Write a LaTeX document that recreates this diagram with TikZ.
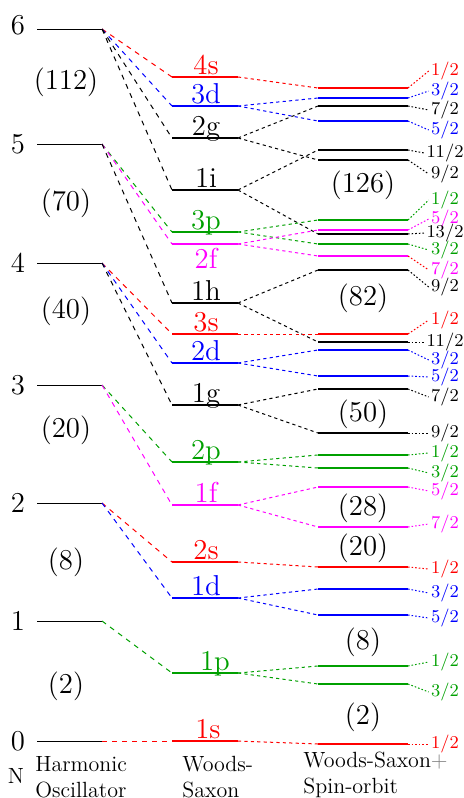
\documentclass[tikz,border=0pt]{standalone}
\definecolor{orbs}{HTML}{FF0000}
\definecolor{orbp}{HTML}{00A000}
\definecolor{orbd}{HTML}{0000FF}
\definecolor{orbf}{HTML}{FF00FF}

\begin{document}
\begin{tikzpicture}[
    x=0.5pt, y=-0.5pt,
    ho/.style={fill=black, minimum width=32.5pt, minimum height=0.5pt, inner sep=0pt, outer sep=0pt},
    ws/.style={minimum width=33pt, minimum height=1.2pt, inner sep=0pt, outer sep=0pt},
    so/.style={minimum width=45pt, minimum height=1.2pt, inner sep=0pt, outer sep=0pt},
    num/.style={font=\Large},
    orb/.style={font=\Large, anchor=base, inner sep=0pt},
    jlab/.style={font=\small, inner sep=1pt},
    fan/.style={dash pattern=on 2.5pt off 2.5pt, line width=0.5pt},
    split/.style={dash pattern=on 1.6pt off 1.6pt, line width=0.5pt},
    tag/.style={dash pattern=on 0.8pt off 1pt, line width=0.5pt},
    axislab/.style={font=\fontsize{11}{13}\selectfont, align=left, anchor=base west, inner sep=0pt},
]
\useasboundingbox (0,0) rectangle (464,798);

% harmonic oscillator
\node[ho] (osc6) at (69.5,29) {};
\node[ho] (osc5) at (69.5,144) {};
\node[ho] (osc4) at (69.5,263) {};
\node[ho] (osc3) at (69.5,385) {};
\node[ho] (osc2) at (69.5,503) {};
\node[ho] (osc1) at (69.5,621) {};
\node[ho] (osc0) at (69.5,741) {};
\node[num] (n6) at (18,25) {6};
\node[num] (n5) at (18,144) {5};
\node[num] (n4) at (18,263) {4};
\node[num] (n3) at (18,385) {3};
\node[num] (n2) at (18,503) {2};
\node[num] (n1) at (18,621) {1};
\node[num] (n0) at (18,741) {0};
\node[num] (m112) at (66,82) {(112)};
\node[num] (m70) at (66,203) {(70)};
\node[num] (m40) at (66,311) {(40)};
\node[num] (m20) at (66,430) {(20)};
\node[num] (m8) at (66,562) {(8)};
\node[num] (m2) at (66,686) {(2)};

% woods-saxon
\node[ws, fill=orbs] (w4s) at (205,77) {};
\node[orb, orbs] (t4s) at (206,74) {4s};
\node[ws, fill=orbd] (w3d) at (205,106) {};
\node[orb, orbd] (t3d) at (206,103) {3d};
\node[ws, fill=black] (w2g) at (205,138) {};
\node[orb] (t2g) at (206,135) {2g};
\node[ws, fill=black] (w1i) at (205,190) {};
\node[orb] (t1i) at (206,187) {1i};
\node[ws, fill=orbp] (w3p) at (205,232) {};
\node[orb, orbp] (t3p) at (206,229) {3p};
\node[ws, fill=orbf] (w2f) at (205,244) {};
\node[orb, orbf] (t2f) at (206,268) {2f};
\node[ws, fill=black] (w1h) at (205,303) {};
\node[orb] (t1h) at (206,300) {1h};
\node[ws, fill=orbs] (w3s) at (205,334) {};
\node[orb, orbs] (t3s) at (206,331) {3s};
\node[ws, fill=orbd] (w2d) at (205,363) {};
\node[orb, orbd] (t2d) at (206,360) {2d};
\node[ws, fill=black] (w1g) at (205,405) {};
\node[orb] (t1g) at (206,402) {1g};
\node[ws, fill=orbp] (w2p) at (205,462) {};
\node[orb, orbp] (t2p) at (206,459) {2p};
\node[ws, fill=orbf] (w1f) at (205,505) {};
\node[orb, orbf] (t1f) at (206,502) {1f};
\node[ws, fill=orbs] (w2s) at (205,562) {};
\node[orb, orbs] (t2s) at (206,559) {2s};
\node[ws, fill=orbd] (w1d) at (205,598) {};
\node[orb, orbd] (t1d) at (206,595) {1d};
\node[ws, fill=orbp] (w1p) at (205,673) {};
\node[orb, orbp] (t1p) at (215,670) {1p};
\node[ws, fill=orbs] (w1s) at (205,741) {};
\node[orb, orbs] (t1s) at (208,738) {1s};

% woods-saxon + spin-orbit
\node[so, fill=orbs] (so4s1) at (363,88) {};
\node[jlab, orbs] (j4s1) at (445,71) {$1/2$};
\node[so, fill=orbd] (so3d3) at (363,98) {};
\node[jlab, orbd] (j3d3) at (445,91) {$3/2$};
\node[so, fill=black] (so2g7) at (363,106) {};
\node[jlab] (j2g7) at (445,110) {$7/2$};
\node[so, fill=orbd] (so3d5) at (363,121) {};
\node[jlab, orbd] (j3d5) at (445,130) {$5/2$};
\node[so, fill=black] (so1i11) at (363,150) {};
\node[jlab] (j1i11) at (445,153) {$11/2$};
\node[so, fill=black] (so2g9) at (363,160) {};
\node[jlab] (j2g9) at (445,174) {$9/2$};
\node[so, fill=orbp] (so3p1) at (363,220) {};
\node[jlab, orbp] (j3p1) at (445,200) {$1/2$};
\node[so, fill=orbf] (so2f5) at (363,230) {};
\node[jlab, orbf] (j2f5) at (445,219) {$5/2$};
\node[so, fill=black] (so1i13) at (363,234) {};
\node[jlab] (j1i13) at (445,233) {$13/2$};
\node[so, fill=orbp] (so3p3) at (363,244) {};
\node[jlab, orbp] (j3p3) at (445,250) {$3/2$};
\node[so, fill=orbf] (so2f7) at (363,256) {};
\node[jlab, orbf] (j2f7) at (445,270) {$7/2$};
\node[so, fill=black] (so1h9) at (363,270) {};
\node[jlab] (j1h9) at (445,287) {$9/2$};
\node[so, fill=orbs] (so3s1) at (363,334) {};
\node[jlab, orbs] (j3s1) at (445,320) {$1/2$};
\node[so, fill=black] (so1h11) at (363,342) {};
\node[jlab] (j1h11) at (445,342) {$11/2$};
\node[so, fill=orbd] (so2d3) at (363,350) {};
\node[jlab, orbd] (j2d3) at (445,360) {$3/2$};
\node[so, fill=orbd] (so2d5) at (363,376) {};
\node[jlab, orbd] (j2d5) at (445,377) {$5/2$};
\node[so, fill=black] (so1g7) at (363,389) {};
\node[jlab] (j1g7) at (445,397) {$7/2$};
\node[so, fill=black] (so1g9) at (363,433) {};
\node[jlab] (j1g9) at (445,433) {$9/2$};
\node[so, fill=orbp] (so2p1) at (363,455) {};
\node[jlab, orbp] (j2p1) at (445,453) {$1/2$};
\node[so, fill=orbp] (so2p3) at (363,468) {};
\node[jlab, orbp] (j2p3) at (445,473) {$3/2$};
\node[so, fill=orbf] (so1f5) at (363,487) {};
\node[jlab, orbf] (j1f5) at (445,491) {$5/2$};
\node[so, fill=orbf] (so1f7) at (363,527) {};
\node[jlab, orbf] (j1f7) at (445,524) {$7/2$};
\node[so, fill=orbs] (so2s1) at (363,567) {};
\node[jlab, orbs] (j2s1) at (445,569) {$1/2$};
\node[so, fill=orbd] (so1d3) at (363,589) {};
\node[jlab, orbd] (j1d3) at (445,593) {$3/2$};
\node[so, fill=orbd] (so1d5) at (363,615) {};
\node[jlab, orbd] (j1d5) at (445,618) {$5/2$};
\node[so, fill=orbp] (so1p1) at (363,666) {};
\node[jlab, orbp] (j1p1) at (445,662) {$1/2$};
\node[so, fill=orbp] (so1p3) at (363,684) {};
\node[jlab, orbp] (j1p3) at (445,692) {$3/2$};
\node[so, fill=orbs] (so1s1) at (363,744) {};
\node[jlab, orbs] (j1s1) at (445,744) {$1/2$};
\node[num] (m126) at (363,185) {(126)};
\node[num] (m82) at (363,298) {(82)};
\node[num] (m50) at (363,414) {(50)};
\node[num] (m28) at (363,508) {(28)};
\node[num] (m20b) at (363,548) {(20)};
\node[num] (m8b) at (363,642) {(8)};
\node[num] (m2b) at (363,717) {(2)};

% column captions (base = last line)
\node[font=\fontsize{11}{13}\selectfont] (nlab) at (16,776) {N};
\node[axislab] (hocap) at (35,797) {Harmonic\\Oscillator};
\node[axislab] (wscap) at (182,797) {Woods-\\Saxon};
\node[axislab] (socap) at (303,793) {Woods-Saxon{\color{gray}+}\\Spin-orbit};

% N -> nl
\draw[fan, orbs] (osc6.east) -- (w4s.west);
\draw[fan, orbd] (osc6.east) -- (w3d.west);
\draw[fan] (osc6.east) -- (w2g.west);
\draw[fan] (osc6.east) -- (w1i.west);
\draw[fan, orbp] (osc5.east) -- (w3p.west);
\draw[fan, orbf] (osc5.east) -- (w2f.west);
\draw[fan] (osc5.east) -- (w1h.west);
\draw[fan, orbs] (osc4.east) -- (w3s.west);
\draw[fan, orbd] (osc4.east) -- (w2d.west);
\draw[fan] (osc4.east) -- (w1g.west);
\draw[fan, orbp] (osc3.east) -- (w2p.west);
\draw[fan, orbf] (osc3.east) -- (w1f.west);
\draw[fan, orbs] (osc2.east) -- (w2s.west);
\draw[fan, orbd] (osc2.east) -- (w1d.west);
\draw[fan, orbp] (osc1.east) -- (w1p.west);
\draw[fan, orbs] (osc0.east) -- (w1s.west);

% nl -> nlj
\draw[split, orbs] (w4s.east) -- (so4s1.west);
\draw[split, orbd] (w3d.east) -- (so3d3.west);
\draw[split, orbd] (w3d.east) -- (so3d5.west);
\draw[split] (w2g.east) -- (so2g7.west);
\draw[split] (w2g.east) -- (so2g9.west);
\draw[split] (w1i.east) -- (so1i11.west);
\draw[split] (w1i.east) -- (so1i13.west);
\draw[split, orbp] (w3p.east) -- (so3p1.west);
\draw[split, orbp] (w3p.east) -- (so3p3.west);
\draw[split, orbf] (w2f.east) -- (so2f5.west);
\draw[split, orbf] (w2f.east) -- (so2f7.west);
\draw[split] (w1h.east) -- (so1h9.west);
\draw[split] (w1h.east) -- (so1h11.west);
\draw[split, orbs] (w3s.east) -- (so3s1.west);
\draw[split, orbd] (w2d.east) -- (so2d3.west);
\draw[split, orbd] (w2d.east) -- (so2d5.west);
\draw[split] (w1g.east) -- (so1g7.west);
\draw[split] (w1g.east) -- (so1g9.west);
\draw[split, orbp] (w2p.east) -- (so2p1.west);
\draw[split, orbp] (w2p.east) -- (so2p3.west);
\draw[split, orbf] (w1f.east) -- (so1f5.west);
\draw[split, orbf] (w1f.east) -- (so1f7.west);
\draw[split, orbs] (w2s.east) -- (so2s1.west);
\draw[split, orbd] (w1d.east) -- (so1d3.west);
\draw[split, orbd] (w1d.east) -- (so1d5.west);
\draw[split, orbp] (w1p.east) -- (so1p1.west);
\draw[split, orbp] (w1p.east) -- (so1p3.west);
\draw[split, orbs] (w1s.east) -- (so1s1.west);

% nlj -> j
\draw[tag, orbs] (so4s1.east) -- (j4s1.west);
\draw[tag, orbd] (so3d3.east) -- (j3d3.west);
\draw[tag] (so2g7.east) -- (j2g7.west);
\draw[tag, orbd] (so3d5.east) -- (j3d5.west);
\draw[tag] (so1i11.east) -- (j1i11.west);
\draw[tag] (so2g9.east) -- (j2g9.west);
\draw[tag, orbp] (so3p1.east) -- (j3p1.west);
\draw[tag, orbf] (so2f5.east) -- (j2f5.west);
\draw[tag] (so1i13.east) -- (j1i13.west);
\draw[tag, orbp] (so3p3.east) -- (j3p3.west);
\draw[tag, orbs] (so2f7.east) -- (j2f7.west);
\draw[tag] (so1h9.east) -- (j1h9.west);
\draw[tag, orbs] (so3s1.east) -- (j3s1.west);
\draw[tag] (so1h11.east) -- (j1h11.west);
\draw[tag, orbd] (so2d3.east) -- (j2d3.west);
\draw[tag, orbd] (so2d5.east) -- (j2d5.west);
\draw[tag] (so1g7.east) -- (j1g7.west);
\draw[tag] (so1g9.east) -- (j1g9.west);
\draw[tag, orbp] (so2p1.east) -- (j2p1.west);
\draw[tag, orbp] (so2p3.east) -- (j2p3.west);
\draw[tag, orbf] (so1f5.east) -- (j1f5.west);
\draw[tag, orbf] (so1f7.east) -- (j1f7.west);
\draw[tag, orbs] (so2s1.east) -- (j2s1.west);
\draw[tag, orbd] (so1d3.east) -- (j1d3.west);
\draw[tag, orbd] (so1d5.east) -- (j1d5.west);
\draw[tag, orbp] (so1p1.east) -- (j1p1.west);
\draw[tag, orbp] (so1p3.east) -- (j1p3.west);
\draw[tag, orbs] (so1s1.east) -- (j1s1.west);

\end{tikzpicture}
\end{document}
